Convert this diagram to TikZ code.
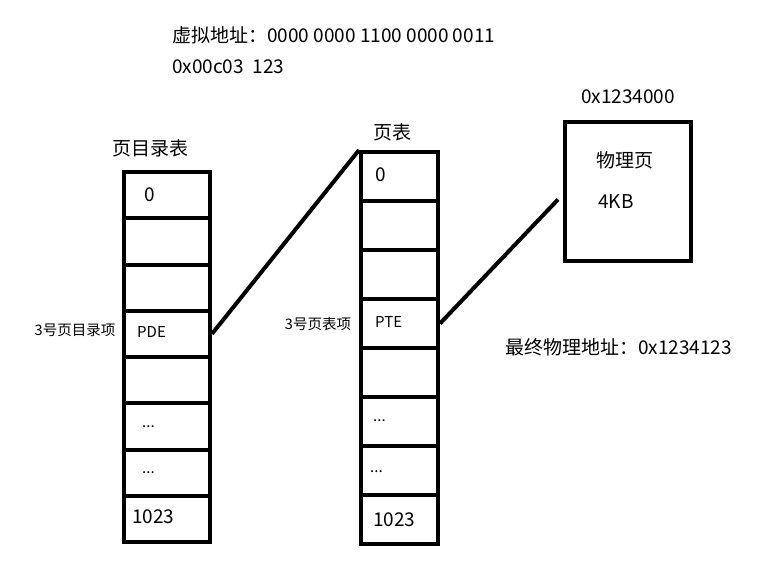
\documentclass[tikz,border=0pt]{standalone}
\usepackage{fontspec}
\setmainfont{Noto Sans CJK SC}
\begin{document}
\begin{tikzpicture}[x=1pt,y=-1pt,
  cellA/.style={draw, line width=4pt, minimum width=86pt, minimum height=46.25pt, anchor=north west, inner sep=0pt},
  cellB/.style={draw, line width=4pt, minimum width=77pt, minimum height=49pt, anchor=north west, inner sep=0pt},
  txt/.style={anchor=west, inner sep=0pt, font=\fontsize{15}{15}\selectfont},
  big/.style={anchor=west, inner sep=0pt, font=\fontsize{19}{19}\selectfont},
  small/.style={anchor=center, inner sep=0pt, font=\fontsize{14.5}{14.5}\selectfont},
  link/.style={line width=4pt}]
\useasboundingbox (0,0) rectangle (784,574);
% page directory
\foreach \i in {0,...,7} { \node[cellA] (d\i) at (122,{170+46.25*\i}) {}; }
% page table
\foreach \i in {0,...,7} { \node[cellB] (p\i) at (359,{150+49*\i}) {}; }
% physical page
\node[draw, line width=4pt, minimum width=126pt, minimum height=139pt, anchor=north west] (phys) at (563,120) {};
% cell texts
\node[big] (d0t) at (144,195) {0};
\node[txt] (d3t) at (137,332) {PDE};
\node[txt] (d5t) at (142,427) {...};
\node[txt] (d6t) at (142,473) {...};
\node[big] (d7t) at (132,517) {1023};
\node[big] (p0t) at (375,175) {0};
\node[txt] (p3t) at (375,322) {PTE};
\node[txt] (p5t) at (373,421) {...};
\node[txt] (p6t) at (370,472) {...};
\node[big] (p7t) at (373,520) {1023};
% titles
\node[big, anchor=center] (dtitle) at (150,148) {页目录表};
\node[big, anchor=center] (ptitle) at (392,132) {页表};
\node[big, anchor=center] (addr) at (628,97) {0x1234000};
\node[big, anchor=center] (physt) at (625,160) {物理页};
\node[big] (kb) at (598,202) {4KB};
\node[small] (dlab) at (75,330) {3号页目录项};
\node[small] (plab) at (318,324) {3号页表项};
\node[big] (final) at (505,347) {最终物理地址：0x1234123};
\node[big] (va) at (172,35) {虚拟地址：0000 0000 1100 0000 0011};
\node[big] (hex) at (172,67) {0x00c03 \ 123};
% connectors
\draw[link] (d3.east) -- (p0.north west);
\draw[link] (p3.east) -- ([xshift=-5pt,yshift=-8pt]phys.west);
\end{tikzpicture}
\end{document}
